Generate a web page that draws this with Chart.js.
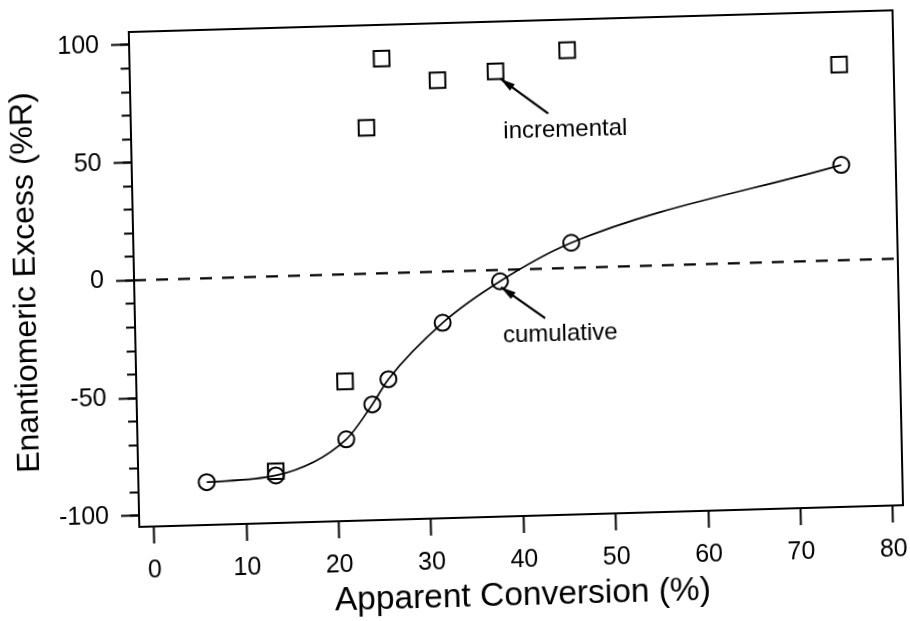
<!DOCTYPE html>
<html>
<head>
<meta charset="utf-8">
<script src="https://cdn.jsdelivr.net/npm/chart.js@4/dist/chart.umd.min.js"></script>
<style>
  html, body { margin: 0; padding: 0; background: #fff; overflow: hidden; width: 910px; height: 621px; }
  #plot { position: absolute; left: 0; top: 0; display: block; }
</style>
</head>
<body>
<canvas id="plot" width="926" height="631"></canvas>
<script>
// Apparent conversion (%) of each sample
const conversion = [5.8, 13.3, 21.0, 23.9, 25.7, 31.7, 38.0, 45.8, 75.2];
// Cumulative enantiomeric excess (%R) at each conversion
const cumulativeEE = [-86.5, -84.5, -70.0, -55.5, -45.0, -21.7, -4.8, 10.7, 40.5];
// Incremental enantiomeric excess (%R), from the second sample onward
const incrementalConversion = [13.3, 21.0, 23.9, 25.7, 31.7, 38.0, 45.8, 75.2];
const incrementalEE = [-82.7, -45.4, 62.0, 91.2, 81.3, 84.4, 92.5, 83.1];

// Axis ticks
const xTickValues = [0, 10, 20, 30, 40, 50, 60, 70, 80];
const yTickValues = [-100, -50, 0, 50, 100];
const yMinorTickValues = [-100, -90, -80, -70, -60, -50, -40, -30, -20, -10, 0,
                         10, 20, 30, 40, 50, 60, 70, 80, 90, 100];

// Axis extents
const X_MIN = -1.6, X_MAX = 81.1;
const Y_MIN = -104.7, Y_MAX = 105.5;

// Callout labels with their arrows (data coordinates)
const callouts = [
  { text: 'incremental', at: [38.7, 55.9], tail: [43.6, 65.8], tip: [38.5, 81.2] },
  { text: 'cumulative',  at: [38.2, -30.6], tail: [42.8, -21.0], tip: [38.1, -7.3] }
];

const FONT = '"Liberation Sans", Arial, Helvetica, sans-serif';

const toPoints = (xs, ys) => xs.map((x, i) => ({ x, y: ys[i] }));

// Plot frame plus the annotated arrows
const framePlugin = {
  id: 'frameAndCallouts',
  afterDatasetsDraw(chart) {
    const { ctx, chartArea: ca, scales } = chart;
    const sx = scales.x, sy = scales.y;
    ctx.save();
    ctx.strokeStyle = '#000';
    ctx.lineWidth = 2;
    ctx.strokeRect(ca.left, ca.top, ca.right - ca.left, ca.bottom - ca.top);

    ctx.fillStyle = '#000';
    ctx.font = '24px ' + FONT;
    ctx.textBaseline = 'alphabetic';
    ctx.textAlign = 'left';
    callouts.forEach(c => {
      const tx = sx.getPixelForValue(c.at[0]), ty = sy.getPixelForValue(c.at[1]);
      ctx.fillText(c.text, tx, ty);
      const x1 = sx.getPixelForValue(c.tail[0]), y1 = sy.getPixelForValue(c.tail[1]);
      const x2 = sx.getPixelForValue(c.tip[0]), y2 = sy.getPixelForValue(c.tip[1]);
      ctx.lineWidth = 2.2;
      ctx.beginPath(); ctx.moveTo(x1, y1); ctx.lineTo(x2, y2); ctx.stroke();
      const ang = Math.atan2(y2 - y1, x2 - x1);
      const cos = Math.cos(ang), sin = Math.sin(ang);
      const len = 15, half = 4;
      ctx.beginPath();
      ctx.moveTo(x2, y2);
      ctx.lineTo(x2 - len * cos + half * sin, y2 - len * sin - half * cos);
      ctx.lineTo(x2 - len * cos - half * sin, y2 - len * sin + half * cos);
      ctx.closePath();
      ctx.fill();
    });
    ctx.restore();
  }
};

const canvas = document.getElementById('plot');
const chart = new Chart(canvas, {
  type: 'line',
  data: {
    datasets: [
      {
        label: 'zero',
        data: [{ x: X_MIN, y: 0 }, { x: X_MAX, y: 0 }],
        borderColor: '#000',
        borderWidth: 2.2,
        borderDash: [12, 10],
        pointRadius: 0,
        fill: false
      },
      {
        label: 'cumulative',
        data: toPoints(conversion, cumulativeEE),
        borderColor: '#000',
        borderWidth: 1.7,
        cubicInterpolationMode: 'monotone',
        pointStyle: 'circle',
        pointRadius: 8,
        pointBorderWidth: 2,
        pointBorderColor: '#000',
        pointBackgroundColor: 'rgba(0,0,0,0)',
        fill: false
      },
      {
        label: 'incremental',
        data: toPoints(incrementalConversion, incrementalEE),
        showLine: false,
        pointStyle: 'rect',
        pointRadius: 11,
        pointBorderWidth: 2,
        pointBorderColor: '#000',
        pointBackgroundColor: 'rgba(0,0,0,0)'
      }
    ]
  },
  options: {
    responsive: false,
    animation: false,
    events: [],
    layout: { padding: { left: 0, top: 32, right: 30, bottom: 0 } },
    plugins: { legend: { display: false }, tooltip: { enabled: false } },
    scales: {
      x: {
        type: 'linear',
        min: X_MIN, max: X_MAX,
        afterBuildTicks: s => { s.ticks = xTickValues.map(v => ({ value: v })); },
        afterFit: s => { s.height = 104; },
        border: { display: false },
        grid: { drawOnChartArea: false, tickLength: 17, tickWidth: 2, tickColor: '#000', color: '#000' },
        ticks: { padding: 12, color: '#000', maxRotation: 0, autoSkip: false, font: { size: 25, family: FONT } },
        title: { display: true, text: 'Apparent Conversion (%)', color: '#000',
                 font: { size: 33.5, family: FONT }, padding: { top: 0, bottom: 4 } }
      },
      y: {
        type: 'linear',
        position: 'left',
        weight: 1,
        min: Y_MIN, max: Y_MAX,
        afterBuildTicks: s => { s.ticks = yTickValues.map(v => ({ value: v })); },
        afterFit: s => { s.width = 132; },
        border: { display: false },
        grid: { drawOnChartArea: false, tickLength: 18, tickWidth: 2, tickColor: '#000', color: '#000' },
        ticks: { padding: 12, color: '#000', font: { size: 25, family: FONT } },
        title: { display: true, text: 'Enantiomeric Excess (%R)', color: '#000',
                 font: { size: 32, family: FONT }, padding: { top: 5, bottom: 0 } }
      },
      yMinor: {
        type: 'linear',
        position: 'left',
        weight: 0,
        min: Y_MIN, max: Y_MAX,
        afterBuildTicks: s => { s.ticks = yMinorTickValues.map(v => ({ value: v })); },
        afterFit: s => { s.width = 0; },
        border: { display: false },
        grid: { drawOnChartArea: false, tickLength: 9, tickWidth: 2, tickColor: '#000', color: '#000' },
        ticks: { display: false }
      }
    }
  },
  plugins: [framePlugin]
});

// The sheet sits slightly askew on the page: map the plot box onto its tilted frame
const ca = chart.chartArea;
const w = ca.right - ca.left, h = ca.bottom - ca.top;
const a = 763.7 / w, b = -21.7 / w, c = 10.5 / h, d = 494.6 / h;
const e = 128.8 - (a * ca.left + c * ca.top);
const f = 32.0 - (b * ca.left + d * ca.top);
canvas.style.transformOrigin = '0 0';
canvas.style.transform = `matrix(${a}, ${b}, ${c}, ${d}, ${e}, ${f})`;
</script>
</body>
</html>
